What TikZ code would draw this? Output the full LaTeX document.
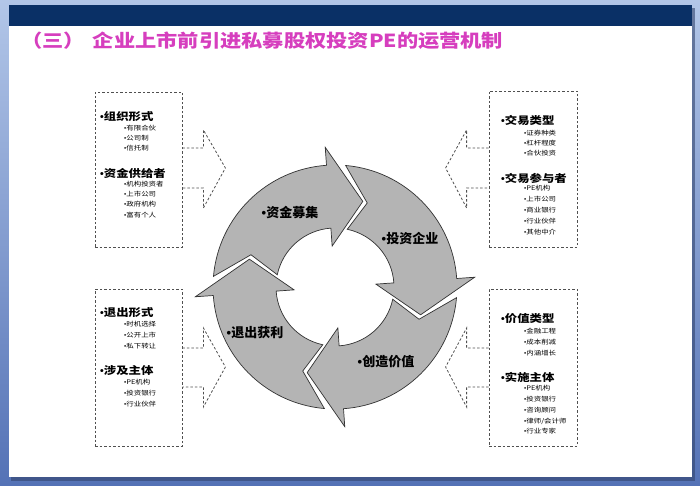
\documentclass[tikz,border=0pt]{standalone}
\usepackage{fontspec}
\newfontfamily\cjk{Noto Sans CJK SC}
\newfontfamily\cjkw{Noto Sans CJK SC}[FakeStretch=1.18]
\newfontfamily\bulfont{Liberation Sans}
\newcommand{\bul}{{\bulfont •}}
\definecolor{navybar}{RGB}{10,48,102}
\definecolor{titlepink}{RGB}{214,62,190}
\definecolor{frametop}{RGB}{178,198,232}
\definecolor{framebot}{RGB}{84,114,182}
\definecolor{ringgray}{RGB}{180,180,180}
\definecolor{ringline}{RGB}{50,50,50}
\definecolor{dashgray}{RGB}{80,80,80}
\tikzset{
  dashbox/.style={draw=dashgray, dash pattern=on 2.5pt off 2pt, line width=0.8pt},
  dashline/.style={draw=dashgray, dash pattern=on 2.5pt off 2pt, line width=0.8pt},
  headtext/.style={anchor=west, inner sep=0pt, font=\cjkw\bfseries\fontsize{10.5}{10.5}\selectfont},
  subtext/.style={anchor=west, inner sep=0pt, font=\cjkw\fontsize{6.3}{6.3}\selectfont},
  ringarrow/.style={fill=ringgray, draw=ringline, line width=0.7pt, line join=miter},
  ringtext/.style={inner sep=0pt, font=\cjk\bfseries\fontsize{13}{13}\selectfont},
}
\begin{document}
\begin{tikzpicture}[x=1pt,y=1pt]
\useasboundingbox (0,0) rectangle (700,485);
% slide frame
\shade[top color=frametop, bottom color=framebot] (0,0) rectangle (700,485);
\fill[framebot!60!black, opacity=0.6] (11,4) rectangle (695,477);
\fill[white] (9,8) rectangle (692,480);
\fill[navybar] (9,459) rectangle (692,480);
\node[anchor=west, inner sep=0pt, text=titlepink, font=\cjkw\bfseries\fontsize{18}{18}\selectfont] (title) at (21,444) {（三）\hspace{8pt}企业上市前引进私募股权投资PE的运营机制};

% ring
\begin{scope}[shift={(335,198)}]
\draw[ringarrow] (175:122pt) arc[start angle=175, end angle=94, radius=122pt] -- (94:140pt) -- (72:90pt) -- (94:41pt) -- (94:59pt) arc[start angle=94, end angle=168, radius=59pt] -- (159:90pt) -- cycle;
\draw[ringarrow] (85:122pt) arc[start angle=85, end angle=4, radius=122pt] -- (4:140pt) -- (-18:90pt) -- (4:41pt) -- (4:59pt) arc[start angle=4, end angle=78, radius=59pt] -- (69:90pt) -- cycle;
\draw[ringarrow] (-5:122pt) arc[start angle=-5, end angle=-86, radius=122pt] -- (-86:140pt) -- (-108:90pt) -- (-86:41pt) -- (-86:59pt) arc[start angle=-86, end angle=-12, radius=59pt] -- (-21:90pt) -- cycle;
\draw[ringarrow] (-95:122pt) arc[start angle=-95, end angle=-176, radius=122pt] -- (-176:140pt) -- (-198:90pt) -- (-176:41pt) -- (-176:59pt) arc[start angle=-176, end angle=-102, radius=59pt] -- (-111:90pt) -- cycle;
\end{scope}
\node[ringtext] (r1) at (290,272) {\bul{}资金募集};
\node[ringtext] (r2) at (410,246) {\bul{}投资企业};
\node[ringtext] (r3) at (386,123) {\bul{}创造价值};
\node[ringtext] (r4) at (255,152) {\bul{}退出获利};

% boxes
\node[dashbox, minimum width=87pt, minimum height=155pt, inner sep=0pt] (lt) at (138.5,315.5) {};
\node[dashbox, minimum width=88pt, minimum height=156pt, inner sep=0pt] (rt) at (533,316) {};
\node[dashbox, minimum width=87pt, minimum height=157pt, inner sep=0pt] (lb) at (138.5,117.5) {};
\node[dashbox, minimum width=88pt, minimum height=157pt, inner sep=0pt] (rb) at (533,117.5) {};
\draw[dashline, shift={(lt.east)}] (0,21.5) -- (21,21.5) -- (21,39.5) -- (43,1.5) -- (21,-38.5) -- (21,-18.5) -- (0,-18.5);
\draw[dashline, shift={(rt.west)}] (0,21) -- (-22,21) -- (-22,39) -- (-43,1) -- (-22,-39) -- (-22,-19) -- (0,-19);
\draw[dashline, shift={(lb.east)}] (0,19.5) -- (21,19.5) -- (21,39.5) -- (43,0.5) -- (21,-39.5) -- (21,-19.5) -- (0,-19.5);
\draw[dashline, shift={(rb.west)}] (0,19.5) -- (-22,19.5) -- (-22,39.5) -- (-43,0.5) -- (-22,-39.5) -- (-22,-19.5) -- (0,-19.5);

% left top
\node[headtext] (h1) at (100,368) {\bul{}组织形式};
\node[subtext] (s1) at (124,357) {\bul{}有限合伙};
\node[subtext] (s2) at (124,347) {\bul{}公司制};
\node[subtext] (s3) at (124,337) {\bul{}信托制};
\node[headtext] (h2) at (100,312) {\bul{}资金供给者};
\node[subtext] (s4) at (124,301) {\bul{}机构投资者};
\node[subtext] (s5) at (124,291) {\bul{}上市公司};
\node[subtext] (s6) at (124,281) {\bul{}政府机构};
\node[subtext] (s7) at (124,270) {\bul{}富有个人};
% right top
\node[headtext] (h3) at (501,365) {\bul{}交易类型};
\node[subtext] (s8) at (524,352) {\bul{}证券种类};
\node[subtext] (s9) at (524,342) {\bul{}杠杆程度};
\node[subtext] (s10) at (524,332) {\bul{}合伙投资};
\node[headtext] (h4) at (501,307) {\bul{}交易参与者};
\node[subtext] (s11) at (524,297) {\bul{}PE机构};
\node[subtext] (s12) at (524,286) {\bul{}上市公司};
\node[subtext] (s13) at (524,275) {\bul{}商业银行};
\node[subtext] (s14) at (524,264) {\bul{}行业伙伴};
\node[subtext] (s15) at (524,253) {\bul{}其他中介};
% left bottom
\node[headtext] (h5) at (100,172) {\bul{}退出形式};
\node[subtext] (s16) at (124,161) {\bul{}时机选择};
\node[subtext] (s17) at (124,150) {\bul{}公开上市};
\node[subtext] (s18) at (124,139) {\bul{}私下转让};
\node[headtext] (h6) at (100,115) {\bul{}涉及主体};
\node[subtext] (s19) at (124,103) {\bul{}PE机构};
\node[subtext] (s20) at (124,92) {\bul{}投资银行};
\node[subtext] (s21) at (124,81) {\bul{}行业伙伴};
% right bottom
\node[headtext] (h7) at (501,166) {\bul{}价值类型};
\node[subtext] (s22) at (524,154) {\bul{}金融工程};
\node[subtext] (s23) at (524,143) {\bul{}成本削减};
\node[subtext] (s24) at (524,132) {\bul{}内涵增长};
\node[headtext] (h8) at (501,108) {\bul{}实施主体};
\node[subtext] (s25) at (524,97) {\bul{}PE机构};
\node[subtext] (s26) at (524,86) {\bul{}投资银行};
\node[subtext] (s27) at (524,75) {\bul{}咨询顾问};
\node[subtext] (s28) at (524,64) {\bul{}律师/会计师};
\node[subtext] (s29) at (524,54) {\bul{}行业专家};
\end{tikzpicture}
\end{document}
